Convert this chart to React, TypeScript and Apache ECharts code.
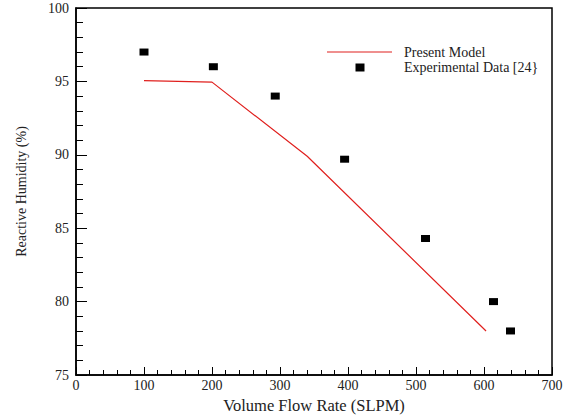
import React, { useEffect, useRef } from "react";
import * as echarts from "echarts";

const modelFlow = [100, 200, 340, 603];
const modelHumidity = [95.05, 94.95, 89.9, 78.0];
const expFlow = [100, 202, 293, 395, 514, 614, 639];
const expHumidity = [97.0, 96.0, 94.0, 89.7, 84.3, 80.0, 78.0];
const seriesNames = ["Present Model", "Experimental Data [24}"];

export default function App() {
  const ref = useRef<HTMLDivElement>(null);
  useEffect(() => {
    if (!ref.current) return;
    const chart = echarts.init(ref.current, null, { renderer: "svg" });
    const font = "'Liberation Serif', 'Times New Roman', serif";
    chart.setOption({
      animation: false,
      backgroundColor: "#ffffff",
      textStyle: { fontFamily: font },
      grid: {
        left: 76,
        right: 18,
        top: 8,
        bottom: 41,
        containLabel: false,
        outerBoundsMode: "none",
        show: true,
        borderColor: "#000",
        borderWidth: 1.5,
      },
      xAxis: {
        type: "value",
        min: 0,
        max: 700,
        interval: 100,
        name: "Volume Flow Rate (SLPM)",
        nameLocation: "middle",
        nameGap: 20,
        nameTextStyle: { color: "#222", fontSize: 16.5, fontFamily: font },
        axisLine: { show: true, lineStyle: { color: "#000", width: 1.5 } },
        axisTick: { show: true, inside: true, length: 8, lineStyle: { color: "#000", width: 1 } },
        minorTick: { show: true, splitNumber: 5, length: 5, lineStyle: { color: "#000", width: 1 } },
        axisLabel: { color: "#222", fontSize: 14, margin: 3, fontFamily: font },
        splitLine: { show: false },
      },
      yAxis: {
        type: "value",
        min: 75,
        max: 100,
        interval: 5,
        name: "Reactive Humidity (%)",
        nameLocation: "middle",
        nameGap: 48,
        nameTextStyle: { color: "#222", fontSize: 14, fontFamily: font },
        axisLine: { show: true, lineStyle: { color: "#000", width: 1.5 } },
        axisTick: { show: true, inside: true, length: 11, lineStyle: { color: "#000", width: 1 } },
        minorTick: { show: true, splitNumber: 5, length: 7, lineStyle: { color: "#000", width: 1 } },
        axisLabel: { color: "#222", fontSize: 14, margin: 7, fontFamily: font },
        splitLine: { show: false },
      },
      series: [
        {
          name: seriesNames[0],
          type: "line",
          data: modelFlow.map((x, i) => [x, modelHumidity[i]]),
          showSymbol: false,
          symbol: "none",
          lineStyle: { color: "#e0201e", width: 1.2 },
        },
        {
          name: seriesNames[1],
          type: "scatter",
          data: expFlow.map((x, i) => [x, expHumidity[i]]),
          symbol: "rect",
          symbolSize: [9, 7],
          itemStyle: { color: "#000", opacity: 1 },
        },
      ],
      graphic: [
        {
          type: "line",
          shape: { x1: 327, y1: 52, x2: 392, y2: 52 },
          style: { stroke: "#e0201e", lineWidth: 1.2 },
        },
        {
          type: "text",
          x: 404,
          y: 52,
          style: { text: seriesNames[0], fill: "#222", font: `14px ${font}`, verticalAlign: "middle" },
        },
        {
          type: "rect",
          shape: { x: 355.5, y: 63.5, width: 9, height: 8 },
          style: { fill: "#000" },
        },
        {
          type: "text",
          x: 404,
          y: 67,
          style: { text: seriesNames[1], fill: "#222", font: `14px ${font}`, verticalAlign: "middle" },
        },
      ],
    });
    return () => chart.dispose();
  }, []);
  return <div ref={ref} style={{ width: 570, height: 416, position: "absolute", left: 0, top: 0 }} />;
}
